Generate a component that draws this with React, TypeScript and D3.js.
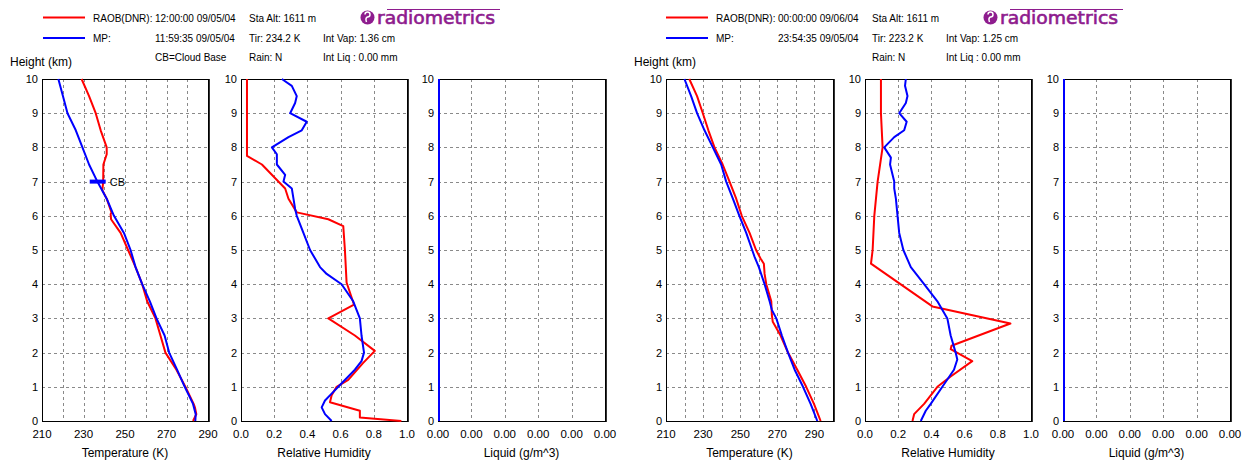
import React, { useRef, useEffect } from 'react';
import * as d3 from 'd3';

// profiles are [height km, value]
const mpTempA: [number, number][] = [
  [0, 283.4], [0.2, 283.6], [0.5, 282.3], [1, 278.3], [1.5, 274.6], [2, 270.8], [2.5, 268.6],
  [3, 264.7], [3.5, 261.5], [4, 257.8], [4.5, 254.6], [5, 252.2], [5.5, 249], [6, 244.2],
  [6.5, 240.7], [7, 236.2], [7.5, 232.2], [8, 229], [8.5, 225.8], [9, 221.8], [9.5, 219.6], [10, 217.4],
];
const raobTempA: [number, number][] = [
  [0, 282.3], [0.2, 283.9], [0.4, 283.2], [0.5, 282.6], [1, 278.6], [1.5, 274.3], [2, 269],
  [2.5, 266.6], [3, 264.2], [3.5, 260.2], [4, 257.8], [4.5, 254.6], [5, 251], [5.5, 247.4],
  [5.9, 242.8], [6.05, 242.6], [6.1, 243], [6.5, 240.7], [6.75, 238.6], [7, 239], [7.5, 239.1],
  [7.8, 240.7], [8, 240.7], [8.5, 237.8], [9, 235.4], [9.5, 232.2], [10, 228.6],
];
const mpRhA: [number, number][] = [
  [0, 0.54], [0.2, 0.5], [0.4, 0.48], [0.6, 0.5], [0.8, 0.54], [1, 0.58], [1.5, 0.68], [1.75, 0.72],
  [2, 0.735], [2.5, 0.72], [3, 0.71], [3.5, 0.67], [4, 0.6], [4.3, 0.51], [4.5, 0.47], [5, 0.41],
  [5.5, 0.37], [6, 0.33], [6.2, 0.32], [6.5, 0.31], [6.8, 0.3], [7, 0.25], [7.2, 0.26], [7.5, 0.21],
  [7.8, 0.21], [8, 0.18], [8.3, 0.28], [8.5, 0.36], [8.75, 0.39], [9, 0.29], [9.3, 0.32], [9.5, 0.33],
  [9.8, 0.3], [10, 0.24],
];
const raobRhA: [number, number][] = [
  [0, 0.96], [0.1, 0.71], [0.3, 0.71], [0.55, 0.53], [0.75, 0.54], [1, 0.57], [1.2, 0.64],
  [1.7, 0.73], [2.05, 0.8], [2.5, 0.68], [3, 0.52], [3.4, 0.675], [4.05, 0.63], [5, 0.62],
  [5.7, 0.61], [5.9, 0.52], [6.1, 0.33], [6.5, 0.28], [6.8, 0.26], [7.5, 0.12], [7.75, 0.03],
  [8, 0.03], [10, 0.03],
];
const mpTempB: [number, number][] = [
  [0, 291], [0.5, 287.4], [1, 283.3], [1.5, 278.8], [2, 275.2], [2.5, 271.9], [3, 268.9],
  [3.25, 266.5], [3.5, 265.3], [4, 262.6], [4.5, 259.5], [4.8, 257.2], [5, 255.9], [5.5, 252.7],
  [6, 249], [6.5, 245.5], [7, 241.9], [7.5, 239.2], [8, 234.7], [8.5, 230.2], [9, 226.2],
  [9.5, 223], [10, 219.4],
];
const raobTempB: [number, number][] = [
  [0, 292.8], [0.5, 289.2], [1, 285], [1.5, 280.2], [2, 275.2], [2.5, 271.2], [2.9, 267],
  [3.1, 266.5], [3.5, 266.2], [4, 263.5], [4.3, 262.6], [4.6, 262.2], [4.75, 260.4], [5, 258],
  [5.5, 254.5], [6, 250.3], [6.5, 247.3], [7, 243.7], [7.5, 240], [8, 235.6], [8.5, 232.3],
  [9, 229.3], [9.5, 226.2], [10, 222],
];
const mpRhB: [number, number][] = [
  [0, 0.33], [0.3, 0.36], [0.5, 0.39], [1, 0.46], [1.5, 0.53], [1.8, 0.55], [2, 0.54], [2.5, 0.51],
  [3, 0.49], [3.5, 0.43], [4, 0.35], [4.5, 0.27], [5, 0.225], [5.5, 0.2], [6, 0.19], [6.5, 0.18],
  [6.8, 0.17], [7, 0.17], [7.2, 0.16], [7.5, 0.145], [7.7, 0.15], [8, 0.11], [8.3, 0.17], [8.5, 0.23],
  [8.75, 0.245], [9, 0.2], [9.3, 0.24], [9.5, 0.25], [9.8, 0.235], [10, 0.24],
];
const raobRhB: [number, number][] = [
  [0, 0.28], [0.2, 0.29], [0.5, 0.35], [1, 0.43], [1.3, 0.51], [1.75, 0.64], [2.1, 0.51],
  [2.2, 0.515], [2.85, 0.87], [3.35, 0.4], [4.6, 0.03], [5, 0.04], [6, 0.05], [7, 0.07],
  [8, 0.1], [9, 0.09], [10, 0.09],
];
const mpLiq: [number, number][] = [[0, 0], [10, 0]];

const heightTicks = [0, 1, 2, 3, 4, 5, 6, 7, 8, 9, 10];
const tempGridA = [210, 220, 230, 240, 250, 260, 270, 280, 290];
const tempGridB = [210, 220, 230, 240, 250, 260, 270, 280, 290, 300];
const tempLabels = [210, 230, 250, 270, 290];
const rhTicks = [0, 0.2, 0.4, 0.6, 0.8, 1.0];
const liqTicks = [0, 0.001, 0.002, 0.003, 0.004, 0.005];

const cloudBaseA = { h: 7, t0: 233, t1: 240.7 };

const RED = '#ff0000';
const BLUE = '#0000ff';
const PURPLE = '#8e1c8e';
const FONT = '"Liberation Sans", Arial, sans-serif';

const App: React.FC = () => {
  const svgRef = useRef<SVGSVGElement>(null);
  const width = 1247;
  const height = 462;

  useEffect(() => {
    document.body.style.margin = '0';
    if (!svgRef.current) return;
    const svg = d3.select(svgRef.current);
    svg.selectAll('*').remove();

    const top = 79;
    const bottom = 421;
    const yScale = d3.scaleLinear().domain([0, 10]).range([bottom, top]);

    const drawPanel = (
      x0: number, x1: number, domain: [number, number], grid: number[], labels: number[],
      fmt: (v: number) => string, title: string,
      series: { data: [number, number][]; color: string }[]
    ) => {
      const x = d3.scaleLinear().domain(domain).range([x0, x1]);
      const g = svg.append('g');

      g.append('rect')
        .attr('x', x0).attr('y', top).attr('width', x1 - x0).attr('height', bottom - top)
        .attr('fill', '#fff');

      g.selectAll('.vgrid')
        .data(grid.filter(d => d > domain[0] && d < domain[1]))
        .enter().append('line')
        .attr('x1', d => Math.round(x(d)) + 0.5).attr('x2', d => Math.round(x(d)) + 0.5)
        .attr('y1', top).attr('y2', bottom)
        .attr('stroke', '#8a8a8a').attr('stroke-dasharray', '3,3');

      g.selectAll('.hgrid')
        .data(heightTicks.filter(d => d > 0 && d < 10))
        .enter().append('line')
        .attr('y1', d => Math.round(yScale(d)) + 0.5).attr('y2', d => Math.round(yScale(d)) + 0.5)
        .attr('x1', x0).attr('x2', x1)
        .attr('stroke', '#8a8a8a').attr('stroke-dasharray', '3,3');

      g.append('rect')
        .attr('x', x0 + 0.5).attr('y', top + 0.5).attr('width', x1 - x0).attr('height', bottom - top)
        .attr('fill', 'none').attr('stroke', '#000');
      g.append('line')
        .attr('x1', x1 + 1.5).attr('x2', x1 + 1.5).attr('y1', top).attr('y2', bottom + 1)
        .attr('stroke', '#333');

      const line = d3.line<[number, number]>()
        .x(d => x(d[1]) + 1)
        .y(d => yScale(d[0]));
      series.forEach(s => {
        g.append('path')
          .attr('d', line(s.data)!)
          .attr('fill', 'none')
          .attr('stroke', s.color)
          .attr('stroke-width', 2)
          .attr('stroke-linejoin', 'round');
      });

      g.selectAll('.ylab')
        .data(heightTicks)
        .enter().append('text')
        .attr('x', x0 - 4)
        .attr('y', d => yScale(d) + 4)
        .attr('text-anchor', 'end')
        .attr('font-size', '11px')
        .attr('font-family', FONT)
        .text(d => String(d));

      g.selectAll('.xlab')
        .data(labels)
        .enter().append('text')
        .attr('x', d => x(d))
        .attr('y', 438)
        .attr('text-anchor', 'middle')
        .attr('font-size', '11.5px')
        .attr('font-family', FONT)
        .text(d => fmt(d));

      g.append('text')
        .attr('x', (x0 + x1) / 2)
        .attr('y', 457)
        .attr('text-anchor', 'middle')
        .attr('font-size', '12px')
        .attr('font-family', FONT)
        .text(title);

      return x;
    };

    const drawHeader = (ox: number, rows: string[][]) => {
      const g = svg.append('g').attr('transform', `translate(${ox},0)`)
        .attr('font-family', FONT).attr('font-size', '10px').style('white-space', 'pre');
      g.append('line').attr('x1', 43).attr('x2', 85).attr('y1', 17.5).attr('y2', 17.5)
        .attr('stroke', RED).attr('stroke-width', 2);
      g.append('line').attr('x1', 43).attr('x2', 85).attr('y1', 38).attr('y2', 38)
        .attr('stroke', BLUE).attr('stroke-width', 2);
      const cols = [93, 155, 249, 323];
      const baselines = [22, 41.5, 61];
      rows.forEach((row, i) => {
        row.forEach((txt, j) => {
          if (!txt) return;
          g.append('text').attr('x', cols[j]).attr('y', baselines[i]).text(txt);
        });
      });
      g.append('text').attr('x', 10 + (ox ? 1 : 0)).attr('y', 66)
        .attr('font-size', '12px').text('Height (km)');

      // logo
      const logo = g.append('g');
      logo.append('circle').attr('cx', 367.5).attr('cy', 17.5).attr('r', 7).attr('fill', PURPLE);
      logo.append('path').attr('d', 'M365,14.5 a2.5,2.5 0 1 1 5,0 a2.5,2.5 0 0 1 -2.5,2.5 q-2.5,1 -1,5')
        .attr('fill', 'none').attr('stroke', '#fff').attr('stroke-width', 1.5);
      logo.append('line').attr('x1', 387).attr('x2', 500).attr('y1', 9.5).attr('y2', 9.5)
        .attr('stroke', PURPLE).attr('stroke-width', 1);
      logo.append('text')
        .attr('x', 377).attr('y', 24)
        .attr('font-family', '"DejaVu Sans", sans-serif')
        .attr('font-size', '17px')
        .attr('fill', PURPLE)
        .attr('stroke', PURPLE)
        .attr('stroke-width', 0.6)
        .attr('textLength', 118)
        .attr('lengthAdjust', 'spacingAndGlyphs')
        .text('radiometrics');
    };

    const liqFmt = (d: number) => (Math.trunc(d * 100) / 100).toFixed(2);

    // group A (left)
    drawHeader(0, [
      ['RAOB(DNR):', '12:00:00 09/05/04', 'Sta Alt: 1611 m', ''],
      ['MP:', '11:59:35 09/05/04', 'Tir:  234.2 K', 'Int Vap:  1.36 cm'],
      ['', 'CB=Cloud Base', 'Rain: N', 'Int Liq :  0.00 mm'],
    ]);
    const xTA = drawPanel(42, 208, [210, 290], tempGridA, tempLabels, d => String(d), 'Temperature (K)', [
      { data: raobTempA, color: RED },
      { data: mpTempA, color: BLUE },
    ]);
    svg.append('line')
      .attr('x1', xTA(cloudBaseA.t0)).attr('x2', xTA(cloudBaseA.t1))
      .attr('y1', yScale(cloudBaseA.h)).attr('y2', yScale(cloudBaseA.h))
      .attr('stroke', BLUE).attr('stroke-width', 4);
    svg.append('text')
      .attr('x', xTA(cloudBaseA.t1) + 4).attr('y', yScale(cloudBaseA.h) + 4)
      .attr('font-size', '11px').attr('font-family', FONT)
      .text('CB');
    drawPanel(241, 407, [0, 1], rhTicks, rhTicks, d => d.toFixed(1), 'Relative Humidity', [
      { data: raobRhA, color: RED },
      { data: mpRhA, color: BLUE },
    ]);
    drawPanel(438, 605, [0, 0.005], liqTicks, liqTicks, liqFmt, 'Liquid (g/m^3)', [
      { data: mpLiq, color: BLUE },
    ]);

    // group B (right)
    drawHeader(623, [
      ['RAOB(DNR):', '00:00:00 09/06/04', 'Sta Alt: 1611 m', ''],
      ['MP:', '23:54:35 09/05/04', 'Tir:  223.2 K', 'Int Vap:  1.25 cm'],
      ['', '', 'Rain: N', 'Int Liq :  0.00 mm'],
    ]);
    drawPanel(666, 833, [210, 300], tempGridB, tempLabels, d => String(d), 'Temperature (K)', [
      { data: raobTempB, color: RED },
      { data: mpTempB, color: BLUE },
    ]);
    drawPanel(865, 1031, [0, 1], rhTicks, rhTicks, d => d.toFixed(1), 'Relative Humidity', [
      { data: raobRhB, color: RED },
      { data: mpRhB, color: BLUE },
    ]);
    drawPanel(1063, 1230, [0, 0.005], liqTicks, liqTicks, liqFmt, 'Liquid (g/m^3)', [
      { data: mpLiq, color: BLUE },
    ]);
  }, []);

  return <svg ref={svgRef} width={width} height={height} style={{ display: 'block', background: '#fff' }} />;
};

export default App;
